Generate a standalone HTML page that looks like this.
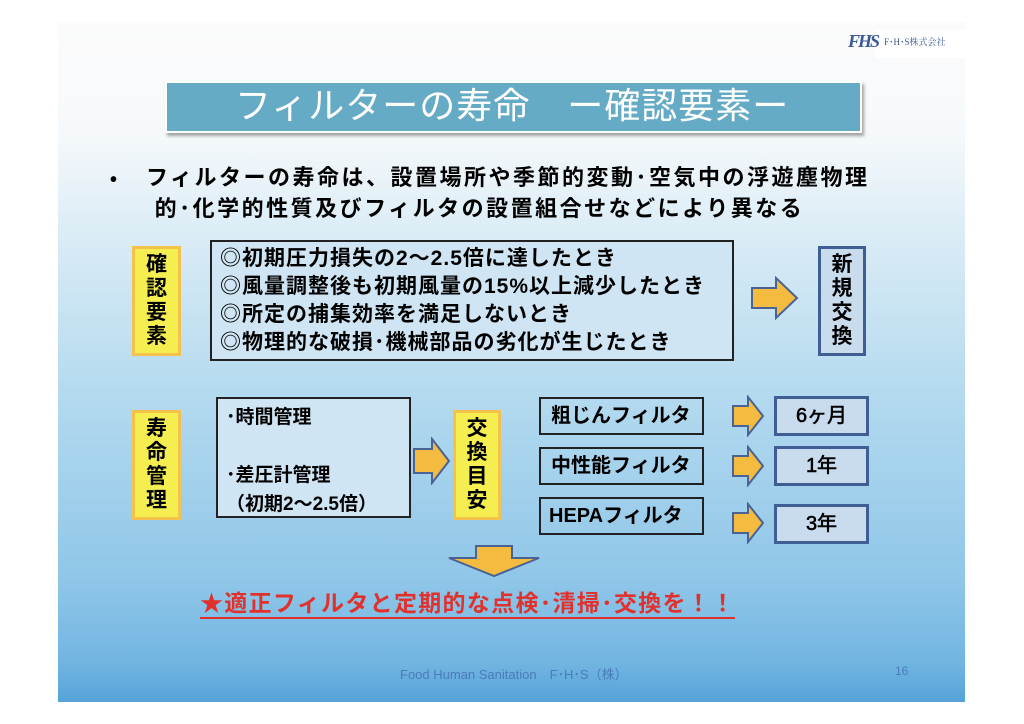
<!DOCTYPE html>
<html><head><meta charset="utf-8"><style>
*{margin:0;padding:0;box-sizing:border-box}
body{width:1024px;height:724px;background:#fff;position:relative;overflow:hidden;font-family:"Liberation Sans","Noto Sans CJK JP",sans-serif;font-weight:bold;color:#000}
.slide{position:absolute;left:58px;top:22px;width:907px;height:680px;background:linear-gradient(to bottom,#fbfbfb 0px,#f6f9fb 110px,#d6eaf5 230px,#b2d9ef 380px,#8fc6e8 560px,#72b5e2 640px,#55a3d8 680px)}
.a{position:absolute;white-space:nowrap}
.y{position:absolute;background:#f4ee50;border:3px solid #f2c24a;font-size:21px;line-height:24px;text-align:center;display:flex;align-items:center;justify-content:center}
.b{position:absolute;border:2px solid #222;font-size:20px;white-space:nowrap}
.r{position:absolute;background:#c9dcee;border:3px solid #3f5f94;font-size:20px;text-align:center}
</style></head><body>
<div class="slide"></div>
<div class="a" style="left:875px;top:30px;width:90px;height:28px;background:#fff"></div>
<div class="a" style="left:848px;top:31px;font-family:'Liberation Serif',serif;font-style:italic;font-size:18px;color:#3b5a94;font-weight:bold;letter-spacing:-2px">FHS</div>
<div class="a" style="left:884px;top:35px;font-family:'Liberation Serif','Noto Serif CJK SC',serif;font-size:9px;color:#3b5a94;font-weight:normal">F･H･S株式会社</div>
<div class="a" style="left:165px;top:81px;width:697px;height:52px;background:#65abc5;border:2px solid #fff;box-shadow:2px 3px 3px rgba(0,0,0,.35);color:#fff;font-weight:normal;font-size:36px;letter-spacing:1px;line-height:46px;padding-left:68px">フィルターの寿命　ー確認要素ー</div>
<div class="a" style="left:110px;top:166px;font-size:20px;line-height:29px">•</div>
<div class="a" style="left:146px;top:162px;font-size:22px;letter-spacing:2.5px;line-height:31px">フィルターの寿命は、設置場所や季節的変動･空気中の浮遊塵物理<br>&nbsp;的･化学的性質及びフィルタの設置組合せなどにより異なる</div>

<div class="y" style="left:132px;top:246px;width:49px;height:110px">確<br>認<br>要<br>素</div>
<div class="b" style="left:210px;top:240px;width:524px;height:121px;background:#cfe5f3;padding:3px 0 0 8px;line-height:28px;font-size:21px;letter-spacing:1px">◎初期圧力損失の2～2.5倍に達したとき<br>◎風量調整後も初期風量の15%以上減少したとき<br>◎所定の捕集効率を満足しないとき<br>◎物理的な破損･機械部品の劣化が生じたとき</div>
<svg class="a" style="left:750px;top:276px" width="50" height="44"><polygon points="2,12 26,12 26,2 47,22 26,42 26,32 2,32" fill="#f3bc40" stroke="#4a6394" stroke-width="2"/></svg>
<div class="r" style="left:818px;top:246px;width:48px;height:110px;font-size:21px;line-height:24px;display:flex;align-items:center;justify-content:center">新<br>規<br>交<br>換</div>

<div class="y" style="left:132px;top:410px;width:49px;height:110px">寿<br>命<br>管<br>理</div>
<div class="b" style="left:216px;top:397px;width:195px;height:121px;background:#cfe5f3;padding:4px 0 0 8px;line-height:29px;font-size:19px">･時間管理<br><br>･差圧計管理<br>（初期2～2.5倍）</div>
<svg class="a" style="left:412px;top:437px" width="40" height="48"><polygon points="2,12 20,12 20,2 37,24 20,46 20,36 2,36" fill="#f3bc40" stroke="#4a6394" stroke-width="2"/></svg>
<div class="y" style="left:453px;top:410px;width:48px;height:110px">交<br>換<br>目<br>安</div>

<div class="b" style="left:539px;top:397px;width:165px;height:38px;line-height:34px;padding-left:10px">粗じんフィルタ</div>
<div class="b" style="left:539px;top:447px;width:165px;height:38px;line-height:34px;padding-left:10px">中性能フィルタ</div>
<div class="b" style="left:539px;top:497px;width:165px;height:38px;line-height:34px;padding-left:8px">HEPAフィルタ</div>
<svg class="a" style="left:731px;top:395px" width="34" height="42"><polygon points="2,11 17,11 17,2 32,21 17,40 17,31 2,31" fill="#f3bc40" stroke="#4a6394" stroke-width="2"/></svg>
<svg class="a" style="left:731px;top:445px" width="34" height="42"><polygon points="2,11 17,11 17,2 32,21 17,40 17,31 2,31" fill="#f3bc40" stroke="#4a6394" stroke-width="2"/></svg>
<svg class="a" style="left:731px;top:502px" width="34" height="42"><polygon points="2,11 17,11 17,2 32,21 17,40 17,31 2,31" fill="#f3bc40" stroke="#4a6394" stroke-width="2"/></svg>
<div class="r" style="left:774px;top:396px;width:95px;height:40px;line-height:34px;font-weight:normal;-webkit-text-stroke:0.6px #000">6ヶ月</div>
<div class="r" style="left:774px;top:446px;width:95px;height:40px;line-height:34px;font-weight:normal;-webkit-text-stroke:0.6px #000">1年</div>
<div class="r" style="left:774px;top:504px;width:95px;height:40px;line-height:34px;font-weight:normal;-webkit-text-stroke:0.6px #000">3年</div>

<svg class="a" style="left:446px;top:544px" width="96" height="34"><polygon points="30,2 66,2 66,14 93,14 48,32 3,14 30,14" fill="#f3bc40" stroke="#4a6394" stroke-width="2"/></svg>

<div class="a" style="left:200px;top:589px;font-size:23px;letter-spacing:1.3px;color:#e0312c;line-height:28px;border-bottom:2px solid #e0312c">★適正フィルタと定期的な点検･清掃･交換を！！</div>

<div class="a" style="left:400px;top:664px;font-size:13px;font-weight:normal;color:#4a7cb8">Food Human Sanitation　F･H･S（株）</div>
<div class="a" style="left:895px;top:664px;font-size:12px;font-weight:normal;color:#4a7cb8">16</div>
</body></html>
